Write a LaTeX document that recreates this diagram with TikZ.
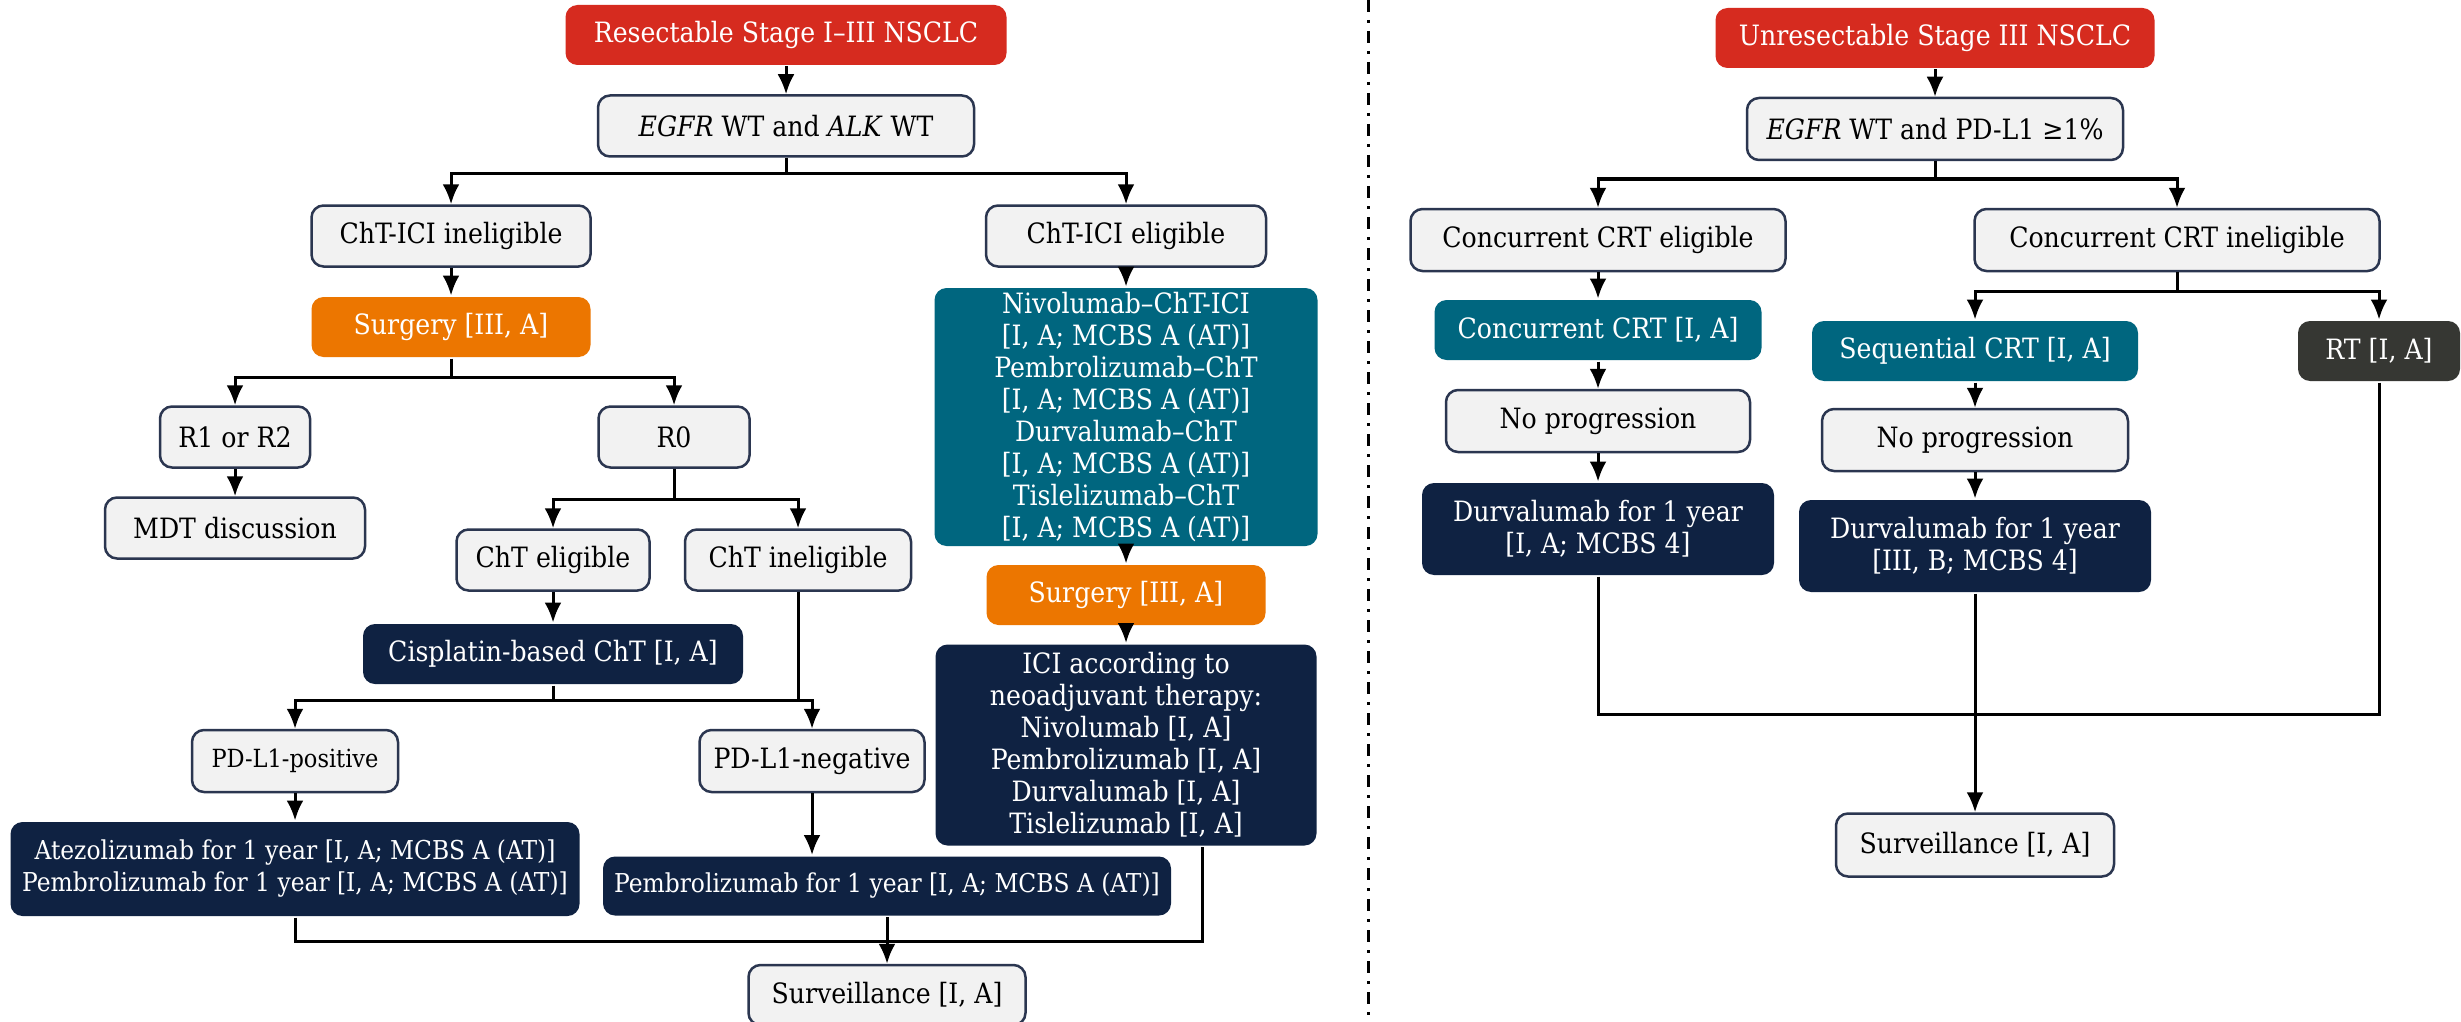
\documentclass[tikz,border=0pt]{standalone}
\usepackage{fontspec}
\setmainfont{DejaVu Serif Condensed}
\usetikzlibrary{arrows.meta}
\definecolor{esred}{HTML}{D62B1F}
\definecolor{esorange}{HTML}{EC7600}
\definecolor{esteal}{HTML}{00667F}
\definecolor{esnavy}{HTML}{0F2242}
\definecolor{esdark}{HTML}{363733}
\definecolor{boxgrey}{HTML}{F2F2F2}
\definecolor{bord}{HTML}{2B3650}

\begin{document}
\begin{tikzpicture}[x=1pt,y=-1pt,>={Latex[length=20pt,width=17pt]},line width=3pt,
    box/.style={rounded corners=12pt,align=center,inner sep=4pt,font=\fontsize{28}{32}\selectfont},
    grey/.style={box,draw=bord,fill=boxgrey,line width=2.5pt,text=black},
    redb/.style={box,fill=esred,text=white},
    orb/.style={box,fill=esorange,text=white},
    tealb/.style={box,fill=esteal,text=white},
    navyb/.style={box,fill=esnavy,text=white},
    darkb/.style={box,fill=esdark,text=white},
    sz/.style 2 args={minimum width=#1pt,minimum height=#2pt}]
    \fill[white] (0,0) rectangle (2461,1022);
    \useasboundingbox (0,0) rectangle (2461,1022);

    % resectable
    \node[redb,sz={441}{60}] (rs) at (786,35) {Resectable Stage I–III NSCLC};
    \node[grey,sz={376}{61}] (egl) at (786,126) {\textit{EGFR} WT and \textit{ALK} WT};
    \node[grey,sz={279}{61}] (cin) at (451,236) {ChT-ICI ineligible};
    \node[grey,sz={280}{61}] (cel) at (1126,236) {ChT-ICI eligible};
    \node[orb,sz={279}{60}] (sg1) at (451,327) {Surgery [III, A]};
    \node[grey,sz={150}{61}] (r12) at (235,437) {R1 or R2};
    \node[grey,sz={151}{61}] (r0) at (674,437) {R0};
    \node[grey,sz={260}{61}] (mdt) at (235,528) {MDT discussion};
    \node[grey,sz={193}{61}] (ce) at (553,560) {ChT eligible};
    \node[grey,sz={226}{61}] (ci) at (798,560) {ChT ineligible};
    \node[navyb,sz={380}{60}] (cis) at (553,654) {Cisplatin-based ChT [I, A]};
    \node[grey,sz={206}{62},font=\fontsize{25}{30}\selectfont] (pp) at (295,761) {PD-L1-positive};
    \node[grey,sz={225}{62}] (pn) at (812,761) {PD-L1-negative};
    \node[navyb,sz={569}{94},font=\fontsize{26}{32}\selectfont] (atz) at (295,869) {Atezolizumab for 1 year [I, A; MCBS A (AT)]\\Pembrolizumab for 1 year [I, A; MCBS A (AT)]};
    \node[navyb,sz={568}{59},font=\fontsize{26}{32}\selectfont] (pem) at (887,886) {Pembrolizumab for 1 year [I, A; MCBS A (AT)]};
    \node[tealb,sz={383}{258}] (neo) at (1126,417) {Nivolumab–ChT-ICI\\{}[I, A; MCBS A (AT)]\\Pembrolizumab–ChT\\{}[I, A; MCBS A (AT)]\\Durvalumab–ChT\\{}[I, A; MCBS A (AT)]\\Tislelizumab–ChT\\{}[I, A; MCBS A (AT)]};
    \node[orb,sz={279}{60}] (sg2) at (1126,595) {Surgery [III, A]};
    \node[navyb,sz={381}{201}] (ici) at (1126,745) {ICI according to\\neoadjuvant therapy:\\Nivolumab [I, A]\\Pembrolizumab [I, A]\\Durvalumab [I, A]\\Tislelizumab [I, A]};
    \node[grey,sz={277}{60}] (sv1) at (887,995) {Surveillance [I, A]};

    % unresectable
    \node[redb,sz={439}{60}] (ur) at (1935,38) {Unresectable Stage III NSCLC};
    \node[grey,sz={376}{62}] (egr) at (1935,129) {\textit{EGFR} WT and PD-L1 ≥1\%};
    \node[grey,sz={375}{62}] (cce) at (1598,240) {Concurrent CRT eligible};
    \node[grey,sz={405}{62}] (cci) at (2177,240) {Concurrent CRT ineligible};
    \node[tealb,sz={327}{60}] (ccrt) at (1598,330) {Concurrent CRT [I, A]};
    \node[tealb,sz={326}{60}] (seq) at (1975,351) {Sequential CRT [I, A]};
    \node[darkb,sz={162}{60}] (rt) at (2379,351) {RT [I, A]};
    \node[grey,sz={304}{62}] (np1) at (1598,421) {No progression};
    \node[grey,sz={306}{62}] (np2) at (1975,440) {No progression};
    \node[navyb,sz={352}{92}] (dv1) at (1598,529) {Durvalumab for 1 year\\{}[I, A; MCBS 4]};
    \node[navyb,sz={352}{92}] (dv2) at (1975,546) {Durvalumab for 1 year\\{}[III, B; MCBS 4]};
    \node[grey,sz={278}{63}] (sv2) at (1975,845) {Surveillance [I, A]};

    % left connectors
    \draw[->] (rs) -- (egl);
    \draw (egl.south) -- (786,174) coordinate (b1);
    \draw[->] (b1) -| (cin.north);
    \draw[->] (b1) -| (cel.north);
    \draw[->] (cin) -- (sg1);
    \draw (sg1.south) -- (451,377) coordinate (b2);
    \draw[->] (b2) -| (r12.north);
    \draw[->] (b2) -| (r0.north);
    \draw[->] (r12) -- (mdt);
    \draw (r0.south) -- (674,499) coordinate (b3);
    \draw[->] (b3) -| (ce.north);
    \draw[->] (b3) -| (ci.north);
    \draw[->] (ce) -- (ce |- cis.north);
    \draw (cis.south) -- (553,700) coordinate (b4);
    \draw[->] (b4) -| (pp.north);
    \draw[->] (b4) -| (pn.north);
    \draw (ci.south) -- (ci.south |- b4);
    \draw[->] (pp) -- (pp |- atz.north);
    \draw[->] (pn) -- (pn |- pem.north);
    \draw[->] (cel) -- (neo);
    \draw[->] (neo) -- (sg2);
    \draw[->] (sg2) -- (ici);
    \coordinate (m1) at (887,941);
    \draw (atz.south) |- (m1);
    \draw ([xshift=76pt]ici.south) |- (m1);
    \draw[->] (pem) -- (sv1);

    % divider
    \draw[line width=3pt,dash pattern=on 12pt off 8pt on 3pt off 8pt] (1368,0) -- (1368,1022);

    % right connectors
    \draw[->] (ur) -- (egr);
    \draw (egr.south) -- (1935,179) coordinate (b5);
    \draw[->] (b5) -| (cce.north);
    \draw[->] (b5) -| (cci.north);
    \draw[->] (cce) -- (ccrt);
    \draw (cci.south) -- (2177,291) coordinate (b6);
    \draw[->] (b6) -| (seq.north);
    \draw[->] (b6) -| (rt.north);
    \draw[->] (ccrt) -- (np1);
    \draw[->] (np1) -- (dv1);
    \draw[->] (seq) -- (np2);
    \draw[->] (np2) -- (dv2);
    \coordinate (m2) at (1975,714);
    \draw (dv1.south) |- (m2);
    \draw (rt.south) |- (m2);
    \draw[->] (dv2) -- (sv2);
\end{tikzpicture}
\end{document}
